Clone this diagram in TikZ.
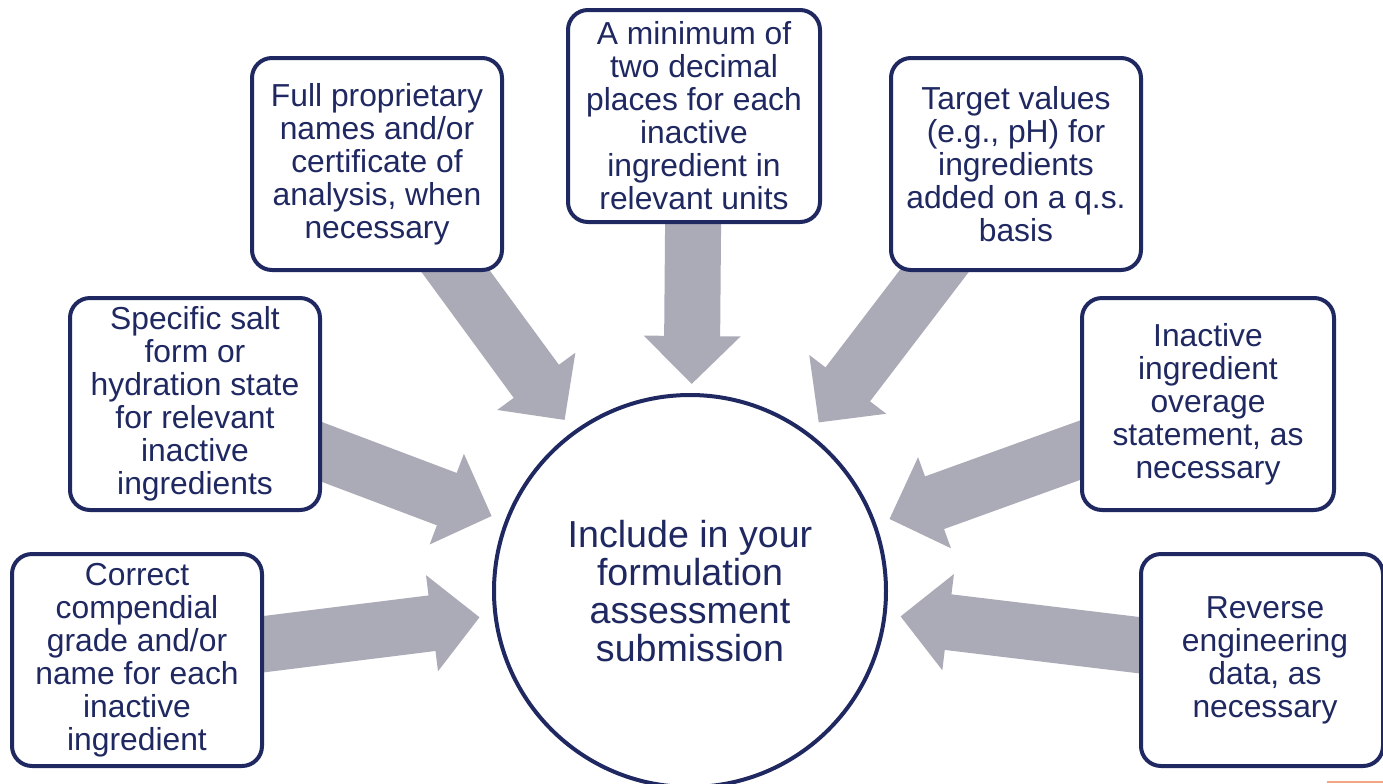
\documentclass[tikz,border=0pt]{standalone}
\usepackage{fontspec}
\setmainfont{Liberation Sans}
\usetikzlibrary{arrows.meta,backgrounds}

\definecolor{navy}{RGB}{31,40,96}
\definecolor{arrowgray}{RGB}{171,171,183}
\definecolor{peach}{RGB}{244,166,130}

\begin{document}
\begin{tikzpicture}[x=0.5pt,y=-0.5pt,inner sep=0pt,outer sep=0pt,
infobox/.style={draw=navy,fill=white,line width=2pt,rounded corners=10pt,minimum width=125pt,minimum height=106pt,align=center,text=navy,font=\fontsize{15.9}{16.5}\selectfont},
hubcircle/.style={draw=navy,fill=white,line width=2pt,circle,minimum size=196pt,align=center,text=navy,font=\fontsize{18.8}{19}\selectfont},
bigarrow/.style={draw=arrowgray,line width=28pt,-{Triangle[length=24pt,width=47pt]},shorten >=8pt}]

\useasboundingbox (0,0) rectangle (1383,783);

\draw (690,591) node[hubcircle] (hub) {Include in your\\formulation\\assessment\\submission};

\draw (137,660) node[infobox] (correct) {Correct\\compendial\\grade and/or\\name for each\\inactive\\ingredient};
\draw (195,404) node[infobox] (salt) {Specific salt\\form or\\hydration state\\for relevant\\inactive\\ingredients};
\draw (377,164) node[infobox] (proprietary) {Full proprietary\\names and/or\\certificate of\\analysis, when\\necessary};
\draw (694,116) node[infobox,minimum width=126pt] (decimals) {A minimum of\\two decimal\\places for each\\inactive\\ingredient in\\relevant units};
\draw (1016,164) node[infobox] (target) {Target values\\(e.g., pH) for\\ingredients\\added on a q.s.\\basis};
\draw (1208,404) node[infobox,minimum width=126pt] (overage) {Inactive\\ingredient\\overage\\statement, as\\necessary};
\draw (1262,660) node[infobox,minimum width=121pt] (reverse) {\hspace*{3pt}Reverse\\\hspace*{3pt}engineering\\\hspace*{3pt}data, as\\\hspace*{3pt}necessary};

% block arrows sit behind the boxes
\begin{scope}[on background layer]
\draw[bigarrow] (correct.center) -- (hub);
\draw[bigarrow] (salt.center) -- (hub);
\draw[bigarrow] (proprietary.center) -- (hub);
\draw[bigarrow,shorten >=5.5pt] (decimals.center) -- (hub);
\draw[bigarrow] (target.center) -- (hub);
\draw[bigarrow] (overage.center) -- (hub);
\draw[bigarrow] (reverse.center) -- (hub);
\end{scope}

\fill[peach] (1327,781) rectangle (1383,783);
\end{tikzpicture}
\end{document}
